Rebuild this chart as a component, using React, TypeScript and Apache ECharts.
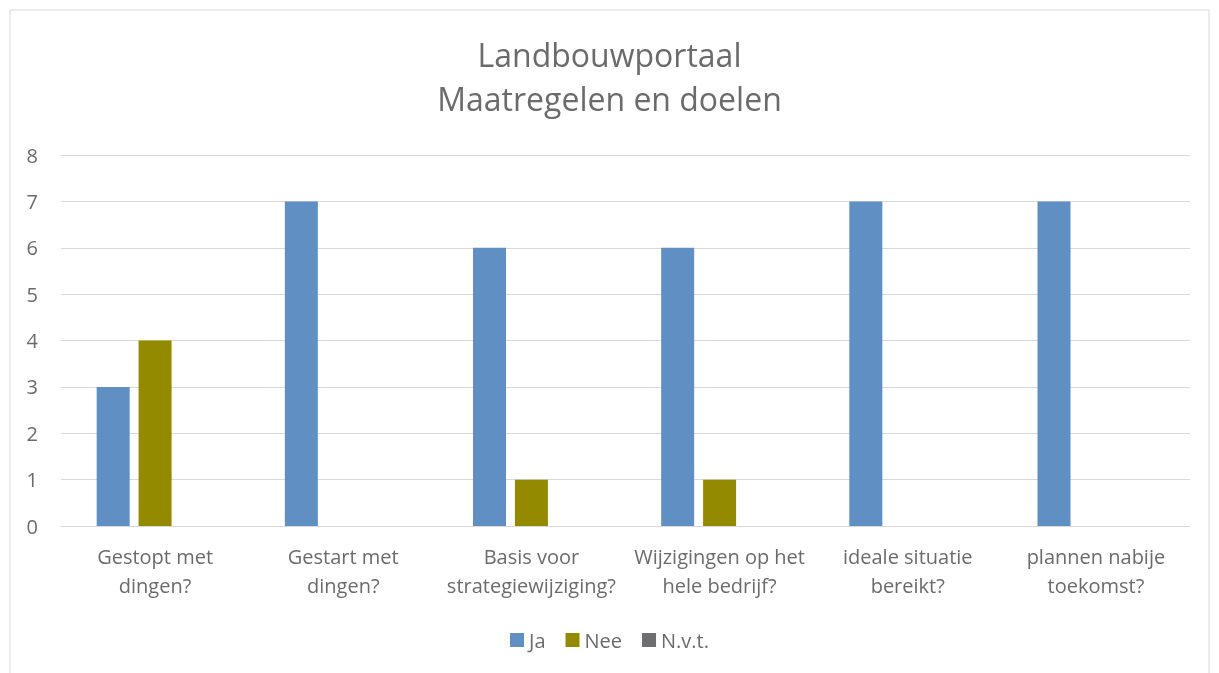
import React, { useEffect, useRef } from "react";
import * as echarts from "echarts";

const categories = [
  "Gestopt met\ndingen?",
  "Gestart met\ndingen?",
  "Basis voor\nstrategiewijziging?",
  "Wijzigingen op het\nhele bedrijf?",
  "ideale situatie\nbereikt?",
  "plannen nabije\ntoekomst?",
];
const ja = [3, 7, 6, 6, 7, 7];
const nee = [4, 0, 1, 1, 0, 0];
const nvt = [0, 0, 0, 0, 0, 0];
const titleLines = ["Landbouwportaal", "Maatregelen en doelen"];

const FONT = "'Open Sans', sans-serif";
const TEXT = "#6b6b6b";

export default function App() {
  const ref = useRef<HTMLDivElement>(null);
  useEffect(() => {
    const chart = echarts.init(ref.current!, null, { renderer: "svg" });
    const mk = (name: string, data: number[], color: string) => ({
      name,
      type: "bar",
      data,
      barWidth: 33,
      barGap: "27%",
      itemStyle: { color },
    });
    chart.setOption({
      animation: false,
      textStyle: { fontFamily: FONT },
      title: {
        text: titleLines.join("\n"),
        left: "center",
        top: 27,
        textStyle: {
          fontFamily: FONT,
          fontSize: 32,
          fontWeight: "normal",
          color: TEXT,
          lineHeight: 44,
        },
      },
      graphic: [
        {
          type: "rect",
          shape: { x: 10, y: 10, width: 1199, height: 700 },
          style: { fill: "none", stroke: "#d9d9d9", lineWidth: 1 },
          silent: true,
        },
      ],
      legend: {
        top: 625,
        left: "center",
        itemWidth: 14,
        itemHeight: 14,
        itemGap: 20,
        icon: "rect",
        textStyle: { fontFamily: FONT, fontSize: 20, color: TEXT },
        data: ["Ja", "Nee", "N.v.t."],
      },
      grid: { left: 61, right: 29, top: 155, bottom: 147 },
      xAxis: {
        type: "category",
        data: categories,
        axisLine: { show: true, lineStyle: { color: "#d9d9d9" } },
        axisTick: { show: false },
        axisLabel: {
          fontFamily: FONT,
          fontSize: 20,
          color: TEXT,
          lineHeight: 29,
          margin: 16,
          interval: 0,
        },
      },
      yAxis: {
        type: "value",
        min: 0,
        max: 8,
        interval: 1,
        axisLine: { show: false },
        axisTick: { show: false },
        splitLine: { lineStyle: { color: "#d9d9d9", width: 1 } },
        axisLabel: { fontFamily: FONT, fontSize: 20, color: TEXT, margin: 23 },
      },
      series: [
        mk("Ja", ja, "#5f8fc3"),
        mk("Nee", nee, "#948a00"),
        mk("N.v.t.", nvt, "#6e6e72"),
      ],
    });
    return () => chart.dispose();
  }, []);
  return (
    <div
      ref={ref}
      style={{ position: "fixed", left: 0, top: 0, width: 1219, height: 673 }}
    />
  );
}
